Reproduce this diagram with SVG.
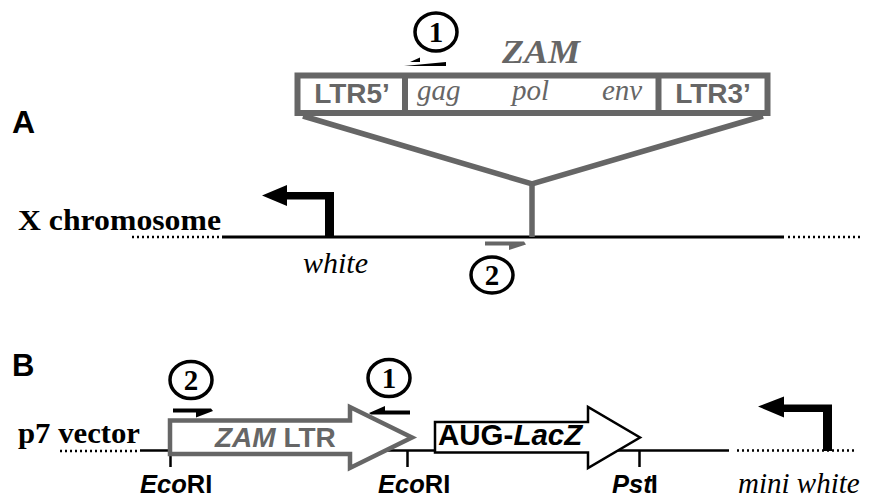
<svg xmlns="http://www.w3.org/2000/svg" width="884" height="501" viewBox="0 0 884 501">
<style>
.grey{fill:#666666}
.sans{font-family:"Liberation Sans",Arial,sans-serif;font-weight:bold}
.serif{font-family:"Liberation Serif","Times New Roman",serif}
.num{font-family:"Liberation Serif","Times New Roman",serif;font-weight:bold;font-size:29px;text-anchor:middle}
.circ{fill:#fff;stroke:#000;stroke-width:3.5}
.gline{stroke:#666666;stroke-width:5.5;fill:none;stroke-linejoin:miter}
.dots{stroke:#000;stroke-width:2.5;stroke-dasharray:2 3;fill:none}
.tick{stroke:#000;stroke-width:2.5}
</style>
<rect width="884" height="501" fill="#fff"/>

<text x="12" y="133" class="sans" font-size="32">A</text>
<text x="12" y="376" class="sans" font-size="31">B</text>

<g id="connectors">
  <line x1="132" y1="237" x2="222" y2="237" class="dots"/>
  <line x1="222" y1="237" x2="784" y2="237" stroke="#000" stroke-width="3"/>
  <line x1="788" y1="237" x2="860" y2="237" class="dots"/>
  <polyline points="303,116 532,184 763,116" class="gline"/>
  <line x1="532" y1="184" x2="532" y2="237" class="gline"/>
  <line x1="60" y1="451" x2="140" y2="451" class="dots"/>
  <line x1="140" y1="450.5" x2="729" y2="450.5" stroke="#000" stroke-width="2.5"/>
  <line x1="737" y1="450.5" x2="857" y2="450.5" class="dots"/>
  <line x1="170.5" y1="450" x2="170.5" y2="467" class="tick"/>
  <line x1="407.5" y1="450" x2="407.5" y2="467" class="tick"/>
  <line x1="639.5" y1="450" x2="639.5" y2="467" class="tick"/>
</g>

<g id="zam">
  <text x="502" y="63" class="serif grey" font-size="33" font-weight="bold" font-style="italic" textLength="78" lengthAdjust="spacingAndGlyphs">ZAM</text>
  <rect x="297.5" y="75.5" width="470" height="37.5" fill="#fff" stroke="#666666" stroke-width="6"/>
  <line x1="405" y1="75" x2="405" y2="113" stroke="#666666" stroke-width="6"/>
  <line x1="658.5" y1="75" x2="658.5" y2="113" stroke="#666666" stroke-width="6"/>
  <text x="352" y="103" class="sans grey" font-size="28" text-anchor="middle">LTR5’</text>
  <text x="417" y="100" class="serif grey" font-size="29" font-style="italic">gag</text>
  <text x="512" y="100" class="serif grey" font-size="29" font-style="italic">pol</text>
  <text x="602" y="100" class="serif grey" font-size="29" font-style="italic">env</text>
  <text x="713" y="103" class="sans grey" font-size="28" text-anchor="middle">LTR3’</text>
</g>

<g id="primer1-top">
  <ellipse cx="436" cy="32" rx="21" ry="19" class="circ"/>
  <text x="436" y="42" class="num">1</text>
  <polygon points="446,62 410,62 420,57.5 420,62 446,62 446,66 404,66" fill="#000"/>
</g>

<g id="x-chromosome">
  <text x="18" y="230" class="serif" font-size="30" font-weight="bold" textLength="203" lengthAdjust="spacingAndGlyphs">X chromosome</text>
</g>

<g id="white">
  <polygon points="334,237 325,237 325,199.5 287,199.5 287,206 262,195.5 287,185 287,192 334,192" fill="#000"/>
  <text x="303" y="273" class="serif" font-size="30" font-style="italic">white</text>
</g>

<g id="primer2-a">
  <polygon points="485,241.5 524,241.5 526,244.5 509,250 509,245.5 485,245.5" fill="#666666"/>
  <ellipse cx="492" cy="275" rx="21" ry="18" class="circ"/>
  <text x="492" y="285" class="num">2</text>
</g>

<g id="p7-vector">
  <text x="18" y="443" class="serif" font-size="30" font-weight="bold" textLength="122" lengthAdjust="spacingAndGlyphs">p7 vector</text>
</g>

<g id="zam-ltr">
  <polygon points="170,420.5 350,420.5 350,407 412,437.5 350,468 350,454 170,454" fill="#fff" stroke="#666666" stroke-width="4.5" stroke-linejoin="miter"/>
  <text x="215" y="447" class="sans grey" font-size="28"><tspan font-style="italic">ZAM</tspan> LTR</text>
</g>

<g id="primer2-b">
  <ellipse cx="191" cy="380" rx="21" ry="18.5" class="circ"/>
  <text x="191" y="390" class="num">2</text>
  <polygon points="173,408.5 211,408.5 213,411 196,417.5 196,412.5 173,412.5" fill="#000"/>
</g>

<g id="primer1-b">
  <ellipse cx="389" cy="378" rx="21" ry="18.5" class="circ"/>
  <text x="389" y="388" class="num">1</text>
  <polygon points="410,410.5 385,410.5 385,406 369,413 371,414.5 410,414.5" fill="#000"/>
</g>

<g id="lacz">
  <polygon points="435,422 588,422 588,407 640,437.5 588,468 588,452.5 435,452.5" fill="#fff" stroke="#000" stroke-width="2.5" stroke-linejoin="miter"/>
  <text x="438" y="445" class="sans" font-size="29.5">AUG-<tspan font-style="italic">LacZ</tspan></text>
</g>

<g id="mini-white">
  <polygon points="832,451 823,451 823,412 784,412 784,417.5 758,406.5 784,396.5 784,404.5 832,404.5" fill="#000"/>
  <text x="738" y="493" class="serif" font-size="29" font-style="italic">mini white</text>
</g>

<g id="sites">
  <text x="140" y="493" class="sans" font-size="25.5"><tspan font-style="italic">Eco</tspan>RI</text>
  <text x="378" y="493" class="sans" font-size="25.5"><tspan font-style="italic">Eco</tspan>RI</text>
  <text x="612" y="493" class="sans" font-size="25.5"><tspan font-style="italic">Pst</tspan><tspan dx="-1">I</tspan></text>
</g>
</svg>
